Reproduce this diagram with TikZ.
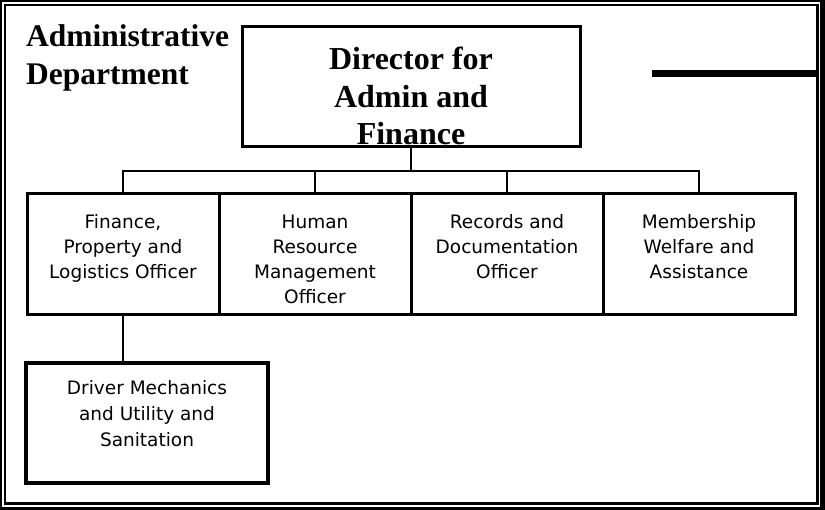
\documentclass[tikz,border=0pt]{standalone}
\usepackage{fontspec}
\setmainfont{Liberation Serif}
\newfontfamily\boxfont{DejaVu Sans}
\begin{document}
\begin{tikzpicture}[x=1pt,y=-1pt,
  unitbox/.style={draw, line width=3pt, inner sep=0pt, outer sep=0pt,
    font=\boxfont\fontsize{18.5}{25}\selectfont},
  headbox/.style={draw, line width=3pt, inner sep=0pt, outer sep=0pt,
    font=\bfseries\fontsize{32}{37.5}\selectfont},
  link/.style={line width=1.5pt},
  bar/.style={line width=7pt}]
\useasboundingbox (0,0) rectangle (825,510);
% frame
\fill[black] (0,0) rectangle (825,510);
\fill[white] (2,2) rectangle (820,506.5);
\draw[line width=2.4pt] (4.8,4.8) rectangle (817.5,503.5);
% title
\node[anchor=base west, inner sep=0pt, font=\bfseries\fontsize{31.5}{38}\selectfont] (title) at (26,47)
  {\parbox[t]{215pt}{Administrative\\Department}};
% director
\node[headbox] (dir) at (411,87)
  {\parbox[c][120pt][t]{338pt}{\centering\rule{0pt}{43pt}Director for\\Admin and\\Finance}};
% thick bar
\coordinate (barL) at (652,74);
\coordinate (barR) at (817,74);
\draw[bar] (barL) -- (barR);
% units
\node[unitbox] (b1) at (123,254.5)
  {\parbox[c][121pt][t]{192pt}{\centering\rule{0pt}{35pt}Finance,\\Property and\\Logistics Officer}};
\node[unitbox] (b2) at (315,254.5)
  {\parbox[c][121pt][t]{192pt}{\centering\rule{0pt}{35pt}Human\\Resource\\Management\\Officer}};
\node[unitbox] (b3) at (507,254.5)
  {\parbox[c][121pt][t]{192pt}{\centering\rule{0pt}{35pt}Records and\\Documentation\\Officer}};
\node[unitbox] (b4) at (699,254.5)
  {\parbox[c][121pt][t]{192pt}{\centering\rule{0pt}{35pt}Membership\\Welfare and\\Assistance}};
% driver
\node[unitbox, line width=3.5pt, font=\boxfont\fontsize{18.5}{26}\selectfont] (drv) at (147,423)
  {\parbox[c][120pt][t]{242pt}{\centering\rule{0pt}{32pt}Driver Mechanics\\and Utility and\\Sanitation}};
% connectors
\coordinate (bus) at (411,171);
\draw[link] (dir.south) -- (bus);
\draw[link] (b1.north) -- (b1.north |- bus) -- (b4.north |- bus) -- (b4.north);
\draw[link] (b2.north) -- (b2.north |- bus);
\draw[link] (b3.north) -- (b3.north |- bus);
\draw[link] (b1.south) -- (b1.south |- drv.north);
\end{tikzpicture}
\end{document}
